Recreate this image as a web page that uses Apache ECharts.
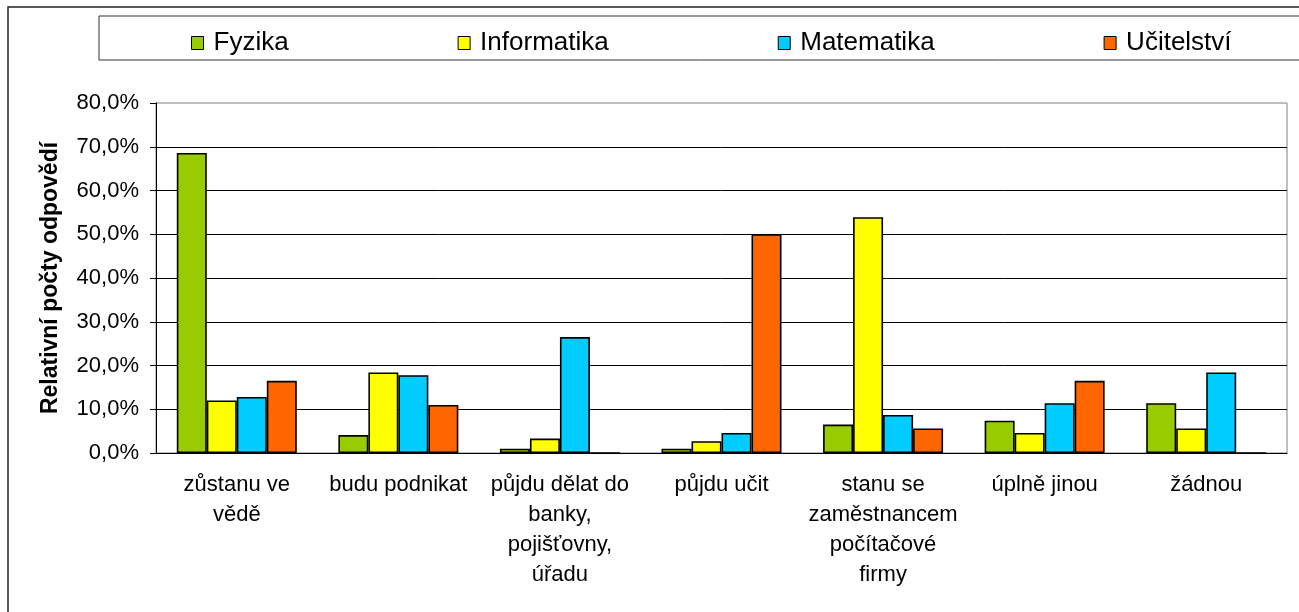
<!DOCTYPE html>
<html style="height: 100%">
<head>
<meta charset="utf-8">
<script src="https://cdn.jsdelivr.net/npm/echarts@6/dist/echarts.min.js"></script>
</head>
<body style="height: 100%; margin: 0; background: #fff">
<div id="main" style="width: 1299px; height: 612px"></div>
<script type="text/javascript">
var categories = ['zůstanu ve\nvědě', 'budu podnikat', 'půjdu dělat do\nbanky,\npojišťovny,\núřadu',
    'půjdu učit', 'stanu se\nzaměstnancem\npočítačové\nfirmy', 'úplně jinou', 'žádnou'];
var fyzika      = [68.6, 4.1, 1.0, 1.0, 6.5, 7.4, 11.4];
var informatika = [12.0, 18.4, 3.3, 2.7, 53.9, 4.6, 5.6];
var matematika  = [12.8, 17.8, 26.5, 4.6, 8.7, 11.4, 18.4];
var ucitelstvi  = [16.5, 11.0, 0, 50.0, 5.6, 16.5, 0];

var font = "'Liberation Sans', Arial, sans-serif";
var myChart = echarts.init(document.getElementById('main'));

function bar(name, data, color) {
    return {
        name: name,
        type: 'bar',
        data: data,
        barWidth: 30,
        barGap: '0%',
        itemStyle: { color: color, borderColor: '#000', borderWidth: 1.6 }
    };
}

myChart.setOption({
    backgroundColor: '#fff',
    animation: false,
    textStyle: { fontFamily: font },
    graphic: [
        { type: 'rect', shape: { x: 8, y: 7, width: 2000, height: 2000 },
          style: { fill: null, stroke: '#222', lineWidth: 1.5 }, silent: true },
        { type: 'rect', shape: { x: 99, y: 16, width: 1400, height: 44 },
          style: { fill: null, stroke: '#333', lineWidth: 1 }, silent: true }
    ],
    legend: {
        left: 186,
        top: 25,
        itemWidth: 12,
        itemHeight: 13,
        itemGap: 169,
        icon: 'rect',
        itemStyle: { borderColor: '#000', borderWidth: 1 },
        textStyle: { fontFamily: font, fontSize: 26, color: '#000', lineHeight: 26, padding: [0, 0, 0, 5] },
        data: ['Fyzika', 'Informatika', 'Matematika', 'Učitelství']
    },
    grid: {
        left: 156, right: 12, top: 103, bottom: 159,
        show: true, borderColor: '#808080', borderWidth: 1,
        outerBoundsMode: 'none'
    },
    xAxis: {
        type: 'category',
        data: categories,
        axisLine: { lineStyle: { color: '#000', width: 1 } },
        axisTick: { length: 6, lineStyle: { color: '#000' } },
        axisLabel: { interval: 0, margin: 17, fontFamily: font, fontSize: 22, lineHeight: 30, color: '#000', align: 'center' }
    },
    yAxis: {
        type: 'value',
        min: 0, max: 80, interval: 10,
        name: 'Relativní počty odpovědí',
        nameLocation: 'middle',
        nameRotate: 90,
        nameGap: 94,
        nameTextStyle: { fontFamily: font, fontSize: 23, fontWeight: 'bold', color: '#000' },
        axisLine: { show: true, lineStyle: { color: '#000', width: 1 } },
        axisTick: { show: true, length: 6, lineStyle: { color: '#000' } },
        axisLabel: {
            margin: 17, fontFamily: font, fontSize: 22, color: '#000',
            formatter: function (v) { return v.toFixed(1).replace('.', ',') + '%'; }
        },
        splitLine: { showMaxLine: false, lineStyle: { color: '#000', width: 1 } }
    },
    series: [
        bar('Fyzika', fyzika, '#99CC00'),
        bar('Informatika', informatika, '#FFFF00'),
        bar('Matematika', matematika, '#00CCFF'),
        bar('Učitelství', ucitelstvi, '#FF6600')
    ]
});
</script>
</body>
</html>
